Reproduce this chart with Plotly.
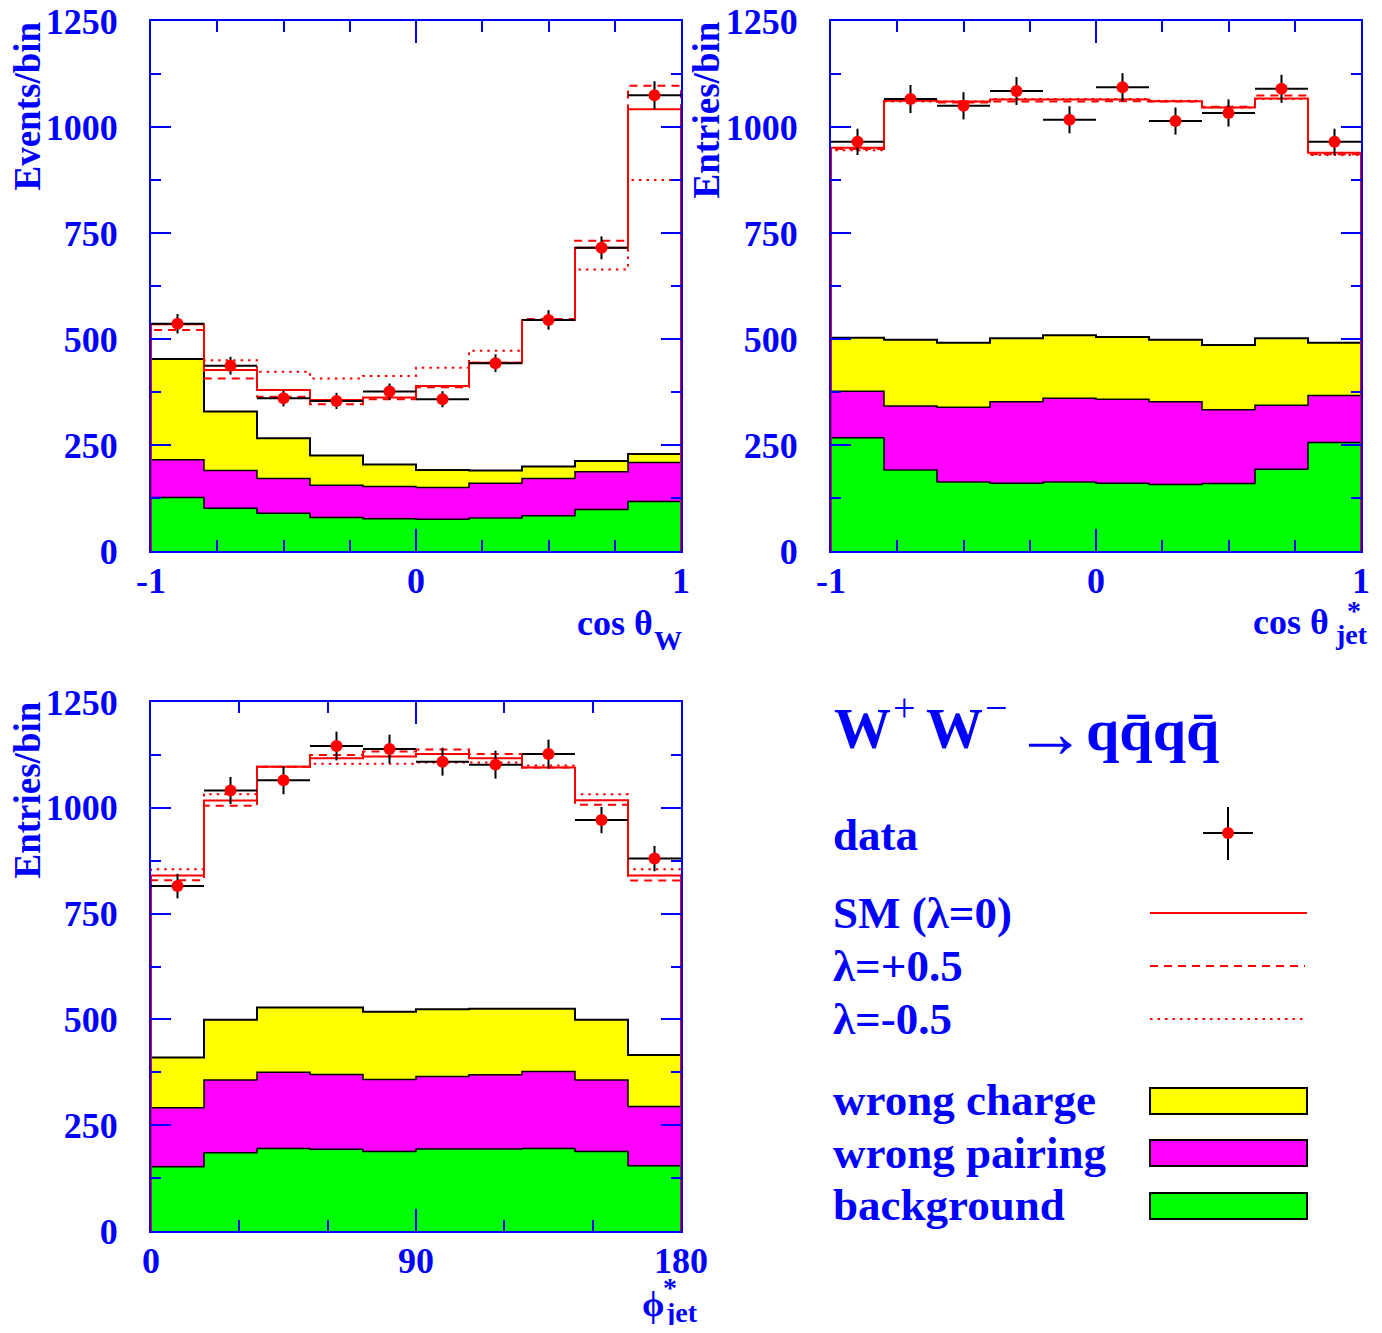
import numpy as np
import plotly.graph_objects as go

W, H = 1382, 1333          # browser window
OFF = 8                    # page body margin
FW, FH = W - 2 * OFF, H - 2 * OFF
BLUE = "#0000ff"
FONT = "Liberation Serif"

# ---------------- data ----------------
n_bins = 10
cos_range = [-1, 1]
phi_range = [0, 180]
y_ticks = [0, 250, 500, 750, 1000, 1250]
cos_ticks = [-1, 0, 1]
cos_ticktext = ["-1", "0", "1"]
phi_ticks = [0, 90, 180]
phi_ticktext = ["0", "90", "180"]

# panel 1: cos theta_W
w_data = [536, 437, 360, 354, 376, 358, 443, 545, 715, 1075]
w_err = [23, 21, 19, 19, 19, 19, 21, 23, 27, 33]
w_sm = [535, 427, 380, 356, 362, 389, 444, 545, 715, 1042]
w_plus = [521, 407, 364, 346, 358, 386, 444, 547, 732, 1097]
w_minus = [535, 450, 423, 407, 413, 432, 472, 545, 664, 875]
w_bkg = [126, 101, 89, 79, 76, 75, 78, 83, 98, 117]
w_wpair = [89, 89, 82, 76, 76, 75, 82, 88, 89, 92]
w_wcharge = [238, 139, 95, 70, 52, 41, 30, 28, 25, 20]

# panel 2: cos theta*_jet
j_data = [965, 1066, 1050, 1085, 1017, 1094, 1014, 1033, 1090, 965]
j_err = [31, 33, 32, 33, 32, 33, 32, 32, 33, 31]
j_sm = [951, 1062, 1060, 1065, 1065, 1065, 1061, 1046, 1067, 939]
j_plus = [948, 1063, 1058, 1060, 1060, 1061, 1060, 1048, 1074, 936]
j_minus = [945, 1060, 1060, 1066, 1066, 1066, 1062, 1046, 1066, 934]
j_bkg = [267, 191, 163, 160, 163, 160, 157, 159, 193, 256]
j_wpair = [110, 151, 176, 192, 197, 198, 195, 174, 151, 111]
j_wcharge = [126, 156, 152, 150, 149, 147, 146, 153, 158, 124]

# panel 3: phi*_jet
p_data = [815, 1041, 1065, 1146, 1139, 1109, 1102, 1127, 971, 880]
p_err = [29, 32, 33, 34, 34, 33, 33, 34, 31, 30]
p_sm = [840, 1017, 1097, 1117, 1121, 1127, 1117, 1095, 1018, 840]
p_plus = [829, 1005, 1097, 1125, 1133, 1138, 1127, 1095, 1007, 828]
p_minus = [855, 1032, 1097, 1104, 1104, 1107, 1107, 1100, 1032, 855]
p_bkg = [152, 185, 195, 193, 188, 194, 194, 195, 188, 154]
p_wpair = [139, 172, 180, 177, 170, 171, 175, 182, 169, 140]
p_wcharge = [119, 142, 153, 158, 160, 159, 156, 148, 142, 122]


def px(x):
    return (x - OFF) / FW


def py(y):
    return 1 - (y - OFF) / FH


def step_xy(edges, vals):
    x = [edges[0]] + list(edges[:-1]) + [edges[-1], edges[-1]]
    y = [0] + list(vals) + [vals[-1], 0]
    return x, y


fig = go.Figure()

panels = [
    dict(xa="x", ya="y", rng=cos_range, data=w_data, err=w_err, sm=w_sm, plus=w_plus,
         minus=w_minus, bkg=w_bkg, wp=w_wpair, wc=w_wcharge),
    dict(xa="x2", ya="y2", rng=cos_range, data=j_data, err=j_err, sm=j_sm, plus=j_plus,
         minus=j_minus, bkg=j_bkg, wp=j_wpair, wc=j_wcharge),
    dict(xa="x3", ya="y3", rng=phi_range, data=p_data, err=p_err, sm=p_sm, plus=p_plus,
         minus=p_minus, bkg=p_bkg, wp=p_wpair, wc=p_wcharge),
]

for p in panels:
    edges = np.linspace(p["rng"][0], p["rng"][1], n_bins + 1)
    bkg = np.array(p["bkg"])
    wp = np.array(p["wp"])
    wc = np.array(p["wc"])
    layers = [(bkg + wp + wc, "#ffff00", 2), (bkg + wp, "#ff00ff", 1.5), (bkg, "#00ff00", 1.5)]
    for vals, col, lw in layers:
        x, y = step_xy(edges, vals.tolist())
        fig.add_trace(go.Scatter(x=x, y=y, mode="lines", line=dict(shape="hv", color="black", width=lw),
                                 fill="tozeroy", fillcolor=col, xaxis=p["xa"], yaxis=p["ya"],
                                 showlegend=False, hoverinfo="skip"))
    for vals, dash in [(p["plus"], "8px,6px"), (p["minus"], "2.5px,5px"), (p["sm"], "solid")]:
        x, y = step_xy(edges, vals)
        fig.add_trace(go.Scatter(x=x, y=y, mode="lines", line=dict(shape="hv", color="#ff0000", width=2, dash=dash),
                                 xaxis=p["xa"], yaxis=p["ya"], showlegend=False, hoverinfo="skip"))
    centers = (edges[:-1] + edges[1:]) / 2
    half = np.diff(edges) / 2
    fig.add_trace(go.Scatter(x=centers, y=p["data"], mode="markers",
                             marker=dict(color="#ff0000", size=12),
                             error_y=dict(type="data", array=p["err"], color="black", thickness=2, width=0),
                             error_x=dict(type="data", array=half, color="black", thickness=2, width=0),
                             xaxis=p["xa"], yaxis=p["ya"], showlegend=False))

tickfont = dict(family=FONT, size=36, color=BLUE, weight="bold")


def yaxis_cfg(domain):
    return dict(domain=domain, range=[0, 1250], tickmode="array", tickvals=y_ticks,
                ticks="inside", ticklen=20, tickwidth=2, tickcolor=BLUE,
                showline=True, linecolor=BLUE, linewidth=2, mirror="allticks",
                showgrid=False, zeroline=False, tickfont=tickfont, ticklabelstandoff=24,
                ticklabeloverflow="allow",
                minor=dict(tickmode="linear", tick0=0, dtick=125, ticks="inside", ticklen=10,
                           tickwidth=2, tickcolor=BLUE, showgrid=False),
                automargin=False, fixedrange=True)


def xaxis_cfg(domain, rng, tv, tt, minor_dtick, anchor):
    return dict(domain=domain, range=rng, tickmode="array", tickvals=tv, ticktext=tt,
                ticks="inside", ticklen=22, tickwidth=2, tickcolor=BLUE,
                showline=True, linecolor=BLUE, linewidth=2, mirror="allticks",
                showgrid=False, zeroline=False, tickfont=tickfont, ticklabelstandoff=-3,
                ticklabeloverflow="allow",
                minor=dict(tickmode="linear", tick0=rng[0], dtick=minor_dtick, ticks="inside",
                           ticklen=11, tickwidth=2, tickcolor=BLUE, showgrid=False),
                anchor=anchor, automargin=False, fixedrange=True)


xd_left = [px(151), px(681)]
xd_right = [px(831), px(1361)]
yd_top = [py(551), py(21)]
yd_bot = [py(1231), py(702)]

fig.update_layout(
    template="none",
    width=FW, height=FH, margin=dict(l=0, r=0, t=0, b=0, pad=0, autoexpand=False),
    paper_bgcolor="white", plot_bgcolor="white",
    font=dict(family=FONT, color=BLUE),
    xaxis=xaxis_cfg(xd_left, cos_range, cos_ticks, cos_ticktext, 0.25, "y"),
    yaxis=dict(yaxis_cfg(yd_top), anchor="x"),
    xaxis2=xaxis_cfg(xd_right, cos_range, cos_ticks, cos_ticktext, 0.25, "y2"),
    yaxis2=dict(yaxis_cfg(yd_top), anchor="x2"),
    xaxis3=xaxis_cfg(xd_left, phi_range, phi_ticks, phi_ticktext, 30, "y3"),
    yaxis3=dict(yaxis_cfg(yd_bot), anchor="x3"),
    showlegend=False,
)

ann = []


def text(t, x, y, size, xanchor="left", yanchor="middle", angle=0, bold=True):
    ann.append(dict(text=("<b>" + t + "</b>") if bold else t, x=px(x), y=py(y), xref="paper", yref="paper",
                    xanchor=xanchor, yanchor=yanchor, showarrow=False, textangle=angle,
                    font=dict(family=FONT, size=size, color=BLUE)))


# axis titles
text("Events/bin", 27, 20, 37, xanchor="center", yanchor="top", angle=-90)
text("Entries/bin", 706, 20, 37, xanchor="center", yanchor="top", angle=-90)
text("Entries/bin", 27, 700, 37, xanchor="center", yanchor="top", angle=-90)
text("cos θ", 655, 623, 36, xanchor="right")
text("W", 652, 640, 28)
text("cos θ", 1331, 622, 36, xanchor="right")
text("*", 1345, 610, 28)
text("jet", 1333, 634, 28)
text("ϕ", 666, 1304, 36, xanchor="right")
text("*", 661, 1287, 28)
text("jet", 663, 1312, 28)

# legend title
text("W", 832, 728, 57)
text("+", 891, 707, 40, bold=False)
text("W", 924, 728, 57)
text("−", 983, 707, 40, bold=False)
text("→", 1012, 733, 72, bold=False)
text("qq̄qq̄", 1084, 730, 60)

# legend labels
text("data", 831, 835, 45)
text("SM (λ=0)", 831, 913, 45)
text("λ=+0.5", 831, 966, 45)
text("λ=-0.5", 831, 1019, 45)
text("wrong charge", 831, 1100, 45)
text("wrong pairing", 831, 1153, 45)
text("background", 831, 1205, 45)

shapes = []


def pline(x0, y0, x1, y1, color, width, dash="solid"):
    shapes.append(dict(type="line", xref="paper", yref="paper", x0=px(x0), y0=py(y0), x1=px(x1), y1=py(y1),
                       line=dict(color=color, width=width, dash=dash)))


pline(1203, 833, 1253, 833, "black", 2)
pline(1228, 807, 1228, 860, "black", 2)
shapes.append(dict(type="circle", xref="paper", yref="paper", x0=px(1222), x1=px(1234), y0=py(839), y1=py(827),
                   fillcolor="#ff0000", line=dict(color="#ff0000", width=0)))
pline(1150, 913, 1307, 913, "#ff0000", 2)
pline(1150, 966, 1305, 966, "#ff0000", 2, "8px,6px")
pline(1150, 1019, 1305, 1019, "#ff0000", 2, "2.5px,5px")
for y0, y1, col in [(1088, 1114, "#ffff00"), (1140, 1166, "#ff00ff"), (1193, 1219, "#00ff00")]:
    shapes.append(dict(type="rect", xref="paper", yref="paper", x0=px(1150), x1=px(1307), y0=py(y1), y1=py(y0),
                       fillcolor=col, line=dict(color="black", width=2)))

fig.update_layout(annotations=ann, shapes=shapes)

fig.write_html("out.html")
